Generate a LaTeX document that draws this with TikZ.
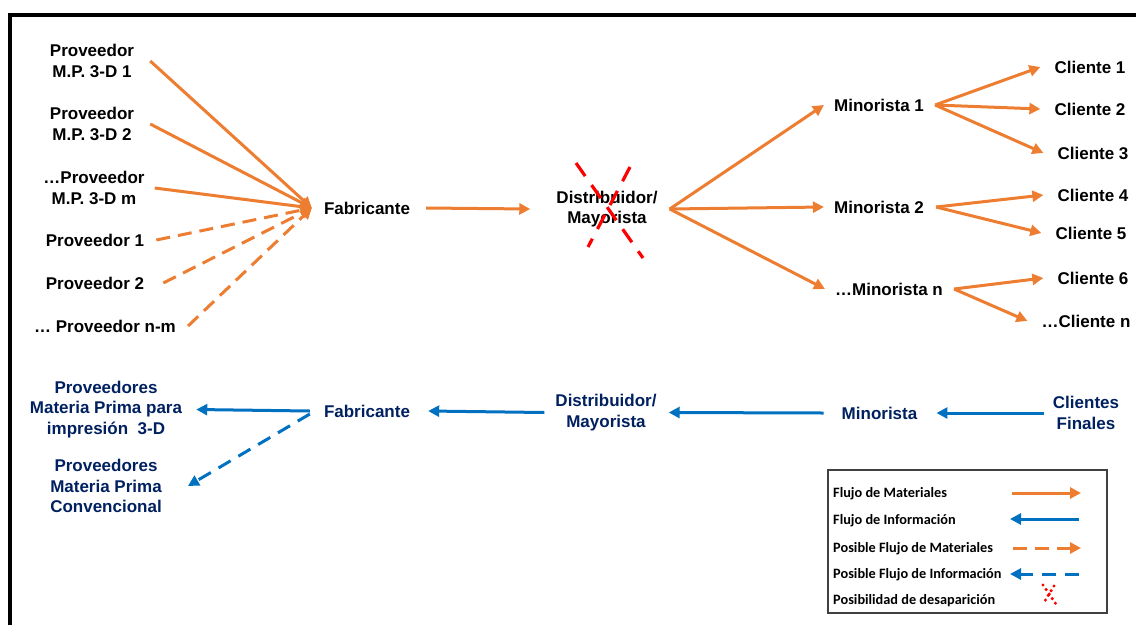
\documentclass[tikz,border=0pt]{standalone}
\usepackage{fontspec}
\setmainfont{Liberation Sans}
\newfontfamily\legendfont{Carlito}
\usepackage{xcolor}
\usepackage{tikz}
\usetikzlibrary{arrows.meta}
\usetikzlibrary{positioning,calc}

\definecolor{matorange}{RGB}{237,125,49}
\definecolor{infoblue}{RGB}{0,112,192}
\definecolor{navytext}{RGB}{0,32,96}

\begin{document}
\begin{tikzpicture}[x=1pt,y=-1pt,>=Latex,line join=miter]
% -------------------------------------------------
% Styles
% -------------------------------------------------
\tikzset{
  lbl/.style={font=\bfseries\fontsize{17}{20.5}\selectfont, align=center, inner sep=2pt},
  toplbl/.style={lbl, text=black},
  botlbl/.style={lbl, text=navytext},
  headtip/.style={-{Triangle[length=11pt,width=11pt]}},
  matarrow/.style={headtip, draw=matorange, line width=3pt},
  matdash/.style={matarrow, dash pattern=on 14pt off 8pt},
  infoarrow/.style={headtip, draw=infoblue, line width=3pt},
  infodash/.style={infoarrow, dash pattern=on 14pt off 9pt},
  gone/.style={draw=red, line width=3.2pt, dash pattern=on 16pt off 11pt},
  legtext/.style={anchor=west, inner sep=0pt, font=\legendfont\bfseries\fontsize{14.3}{16}\selectfont},
}
\useasboundingbox (0,0) rectangle (1136,625);
% frame
\draw[line width=4pt] (9.5,625) -- (9.5,14.5) -- (1136,14.5);
% -------------------------------------------------
% TOP ROW: flujo de materiales
% -------------------------------------------------
\node[toplbl] (pm1) at (92,61)  {Proveedor\\M.P. 3-D 1};
\node[toplbl] (pm2) at (92,124) {Proveedor\\M.P. 3-D 2};
\node[toplbl] (pmm) at (94,188) {…Proveedor\\M.P. 3-D m};
\node[toplbl] (pc1) at (95,240) {Proveedor 1};
\node[toplbl] (pc2) at (95,283) {Proveedor 2};
\node[toplbl] (pcn) at (105,326) {… Proveedor n-m};

\node[toplbl] (fab)  at (367,208) {Fabricante};
\node[toplbl] (dist) at (607,209) {Distribuidor/\\Mayorista};

\node[toplbl] (min1) at (879,105) {Minorista 1};
\node[toplbl] (min2) at (879,207) {Minorista 2};
\node[toplbl] (minn) at (889,289) {…Minorista n};

\node[toplbl] (c1) at (1090,67)  {Cliente 1};
\node[toplbl] (c2) at (1090,109) {Cliente 2};
\node[toplbl] (c3) at (1093,153) {Cliente 3};
\node[toplbl] (c4) at (1093,195) {Cliente 4};
\node[toplbl] (c5) at (1091,233) {Cliente 5};
\node[toplbl] (c6) at (1093,278) {Cliente 6};
\node[toplbl] (cn) at (1086,321) {…Cliente n};

\coordinate (fabin)  at ([xshift=-10pt]fab.west);
\coordinate (distout) at ([xshift=10pt]dist.east);
\coordinate (m1out) at ([xshift=9pt]min1.east);
\coordinate (m2out) at ([xshift=10pt]min2.east);
\coordinate (mnout) at ([xshift=9pt]minn.east);

% proveedores -> fabricante
\foreach \src/\dx in {pm1/14,pm2/14,pmm/8}{
  \draw[matarrow] ([xshift=\dx pt]\src.east) -- (fabin);
}
\foreach \src/\dx in {pc1/10,pc2/17,pcn/10}{
  \draw[matdash] ([xshift=\dx pt]\src.east) -- (fabin);
}
\draw[matarrow] ([xshift=14pt]fab.east) -- ([xshift=-24pt]dist.west);
% distribuidor -> minoristas
\foreach \m in {min1,min2,minn}{
  \draw[matarrow] (distout) -- ([xshift=-8pt]\m.west);
}
% minoristas -> clientes
\foreach \c in {c1,c2,c3}{
  \draw[matarrow] (m1out) -- ([xshift=-12pt]\c.west);
}
\foreach \c in {c4,c5}{
  \draw[matarrow] (m2out) -- ([xshift=-12pt]\c.west);
}
\draw[matarrow] (mnout) -- ([xshift=-12pt]c6.west);
\draw[matarrow] (mnout) -- ([xshift=-12pt]cn.west);

% posibilidad de desaparicion
\draw[gone] ([shift={(-31,-46)}]dist.center) -- ([shift={(36,49)}]dist.center);
\draw[gone] ([shift={(23,-42)}]dist.center) -- ([shift={(-19,38)}]dist.center);
% -------------------------------------------------
% BOTTOM ROW: flujo de informacion
% -------------------------------------------------
\node[botlbl] (p3d)   at (106,409.5) {Proveedores\\Materia Prima para\\impresión\ \ 3-D};
\node[botlbl] (pconv) at (106,486) {Proveedores\\Materia Prima\\Convencional};
\node[botlbl] (bfab)  at (367,411) {Fabricante};
\node[botlbl] (bdist) at (606,412.5) {Distribuidor/\\Mayorista};
\node[botlbl] (bmin)  at (879.5,413) {Minorista};
\node[botlbl] (bcli)  at (1086,413) {Clientes\\Finales};

\coordinate (bfabout) at ([xshift=-12pt]bfab.west);
\draw[infoarrow] (bfabout) -- ([xshift=12pt]p3d.east);
\draw[infodash] ([yshift=-3pt]bfabout) -- ([xshift=24pt]pconv.east);
\draw[infoarrow] ([xshift=-9pt]bdist.west) -- ([xshift=16pt]bfab.east);
\draw[infoarrow] ([xshift=-16pt]bmin.west) -- ([xshift=10pt]bdist.east);
\draw[infoarrow] ([xshift=-7pt]bcli.west) -- ([xshift=17pt]bmin.east);
% -------------------------------------------------
% LEGEND
% -------------------------------------------------
\node[draw=black!75, line width=1.2pt, minimum width=279pt, minimum height=143pt, inner sep=0pt] (legend) at (967.5,541.5) {};
\node[legtext] (k1) at (833,494) {Flujo de Materiales};
\node[legtext] (k2) at (833,521) {Flujo de Información};
\node[legtext] (k3) at (833,548.5) {Posible Flujo de Materiales};
\node[legtext] (k4) at (833,575) {Posible Flujo de Información};
\node[legtext] (k5) at (833,601) {Posibilidad de desaparición};

\coordinate (k1a) at (1012,493);  \coordinate (k1b) at (1081,493);
\coordinate (k2a) at (1079,519);  \coordinate (k2b) at (1010,519);
\coordinate (k3a) at (1013,548);  \coordinate (k3b) at (1081,548);
\coordinate (k4a) at (1079,574);  \coordinate (k4b) at (1010,574);
\draw[matarrow] (k1a) -- (k1b);
\draw[infoarrow] (k2a) -- (k2b);
\draw[matdash] (k3a) -- (k3b);
\draw[infodash] (k4a) -- (k4b);
\draw[red, line width=3.4pt, line cap=round, dash pattern=on 0pt off 5.5pt] (1043,585) -- (1058,607);
\draw[red, line width=3.4pt, line cap=round, dash pattern=on 0pt off 5.5pt] (1054,586) -- (1043,604);

\end{tikzpicture}
\end{document}
